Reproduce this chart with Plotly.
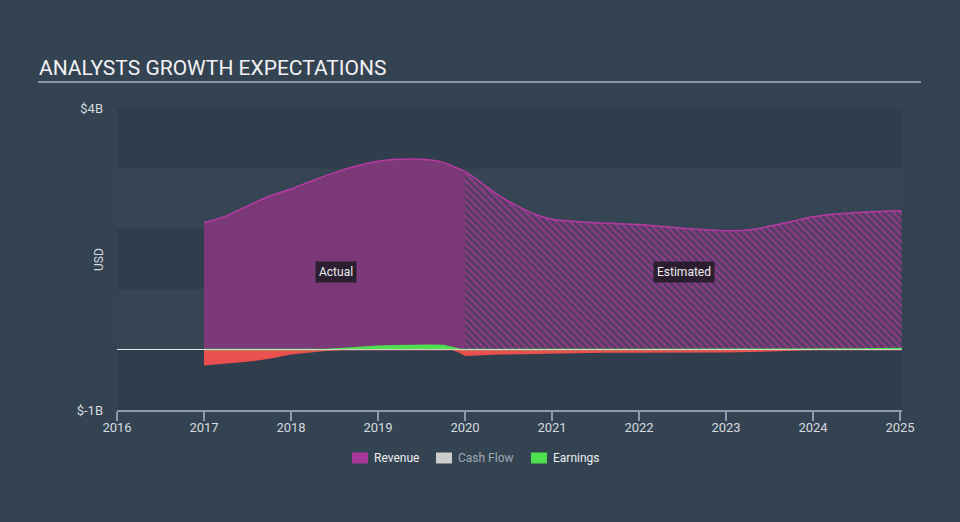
import plotly.graph_objects as go

# ---- data (USD billions) ----
rev_actual_x = [2017.0, 2017.25, 2017.5, 2017.75, 2018.0, 2018.25, 2018.5, 2018.75, 2019.0, 2019.25, 2019.5, 2019.75, 2020.0]
rev_actual_y = [2.10, 2.21, 2.38, 2.54, 2.66, 2.80, 2.93, 3.04, 3.12, 3.15, 3.15, 3.10, 2.95]
rev_est_x = [2020.0, 2020.2, 2020.4, 2020.6, 2020.8, 2021.0, 2021.5, 2022.0, 2022.5, 2023.0, 2023.3, 2023.6, 2024.0, 2024.5, 2025.02]
rev_est_y = [2.95, 2.75, 2.54, 2.38, 2.24, 2.16, 2.10, 2.07, 2.01, 1.97, 1.99, 2.07, 2.20, 2.27, 2.30]

earn_x = [2017.0, 2017.25, 2017.5, 2017.75, 2018.0, 2018.2, 2018.4, 2018.6, 2018.8, 2019.0, 2019.2, 2019.4, 2019.6, 2019.75, 2019.86, 2019.95, 2020.0,
          2020.4, 2021.0, 2021.6, 2022.0, 2022.5, 2023.0, 2023.5, 2023.85, 2024.0, 2024.5, 2025.02]
earn_y = [-0.25, -0.22, -0.19, -0.14, -0.07, -0.04, -0.01, 0.02, 0.04, 0.055, 0.065, 0.07, 0.07, 0.066, 0.03, -0.05, -0.095,
          -0.07, -0.05, -0.04, -0.04, -0.04, -0.035, -0.02, 0.0, 0.005, 0.01, 0.017]

cash_x = [2017.0, 2018.0, 2019.0, 2020.0, 2021.0, 2022.0, 2023.0, 2024.0, 2025.02]
cash_y = [0.0, 0.0, 0.0, 0.0, 0.0, 0.0, 0.0, 0.0, 0.0]

x_ticks = [2016, 2017, 2018, 2019, 2020, 2021, 2022, 2023, 2024, 2025]
y_ticks = [-1, 4]
y_tick_text = ["$-1B", "$4B"]

legend_names = ["Revenue", "Cash Flow", "Earnings"]

# ---- colours ----
BG = "#344352"
PLOT_BG = "#364554"
BAND = "#2f3d4c"
REV_FILL = "#7b3a77"
REV_LINE = "#b73aa2"
RED = "#e9504f"
GREEN = "#4fe04f"
TXT = "#d6dade"
legend_colors = ["#a8379b", "#cccccc", GREEN]
legend_text_colors = ["#eeeeee", "#a0a9b3", "#eeeeee"]

# pixel->paper helpers (plot area: x 117..902, y 108..410)
def px(xp):
    return (xp - 117) / 785.0

def py(yp):
    return (410 - yp) / 302.0

fig = go.Figure()

# revenue actual
fig.add_trace(go.Scatter(x=rev_actual_x, y=rev_actual_y, mode="lines", fill="tozeroy",
                         fillcolor=REV_FILL, line=dict(color=REV_LINE, width=1.5, shape="spline", smoothing=0.6),
                         showlegend=False, hoverinfo="skip"))
# revenue estimated (hatched)
fig.add_trace(go.Scatter(x=rev_est_x, y=rev_est_y, mode="lines", fill="tozeroy",
                         fillcolor=REV_FILL,
                         fillpattern=dict(shape="\\", fgcolor="#8a3b85", bgcolor="#4f3e60",
                                          size=5, solidity=0.5, fillmode="replace"),
                         line=dict(color=REV_LINE, width=1.5, shape="spline", smoothing=0.6),
                         showlegend=False, hoverinfo="skip"))

# earnings split into negative (red) and positive (green)
neg = [min(v, 0) for v in earn_y]
pos = [max(v, 0) for v in earn_y]
fig.add_trace(go.Scatter(x=earn_x, y=neg, mode="lines", fill="tozeroy", fillcolor=RED,
                         line=dict(color=RED, width=1.5), showlegend=False, hoverinfo="skip"))
fig.add_trace(go.Scatter(x=earn_x, y=pos, mode="lines", fill="tozeroy", fillcolor=GREEN,
                         line=dict(color=GREEN, width=1.5), showlegend=False, hoverinfo="skip"))

# cash flow (thin light line along zero)
fig.add_trace(go.Scatter(x=cash_x, y=cash_y, mode="lines", line=dict(color="#e2e2e2", width=1),
                         opacity=0.85, showlegend=False, hoverinfo="skip"))

# bands
shapes = []
for lo, hi in [(3, 4), (1, 2), (-1, 0)]:
    shapes.append(dict(type="rect", xref="paper", yref="y", x0=0, x1=1, y0=lo, y1=hi,
                       fillcolor=BAND, line=dict(width=0), layer="below"))
# title underline
shapes.append(dict(type="line", xref="paper", yref="paper", x0=px(38), x1=px(921), y0=py(82), y1=py(82),
                   line=dict(color="#a9b1ba", width=1.5)))

annotations = [
    dict(text="ANALYSTS GROWTH EXPECTATIONS", xref="paper", yref="paper", x=px(37), y=py(68),
         xanchor="left", yanchor="middle", showarrow=False, font=dict(size=21, color="#f2f2f2")),
    dict(text="USD", xref="paper", yref="paper", x=px(99), y=py(260), textangle=-90,
         xanchor="center", yanchor="middle",
         showarrow=False, font=dict(size=12, color=TXT)),
    dict(text="Actual", x=2018.52, y=1.29, xref="x", yref="y", showarrow=False,
         bgcolor="#2b1e31", borderpad=3, font=dict(size=12, color="#eeeeee")),
    dict(text="Estimated", x=2022.52, y=1.29, xref="x", yref="y", showarrow=False,
         bgcolor="#2b1e31", borderpad=3, font=dict(size=12, color="#eeeeee")),
]

# manual legend
swatch_x = [352, 436, 531]
for name, col, tcol, sx in zip(legend_names, legend_colors, legend_text_colors, swatch_x):
    shapes.append(dict(type="rect", xref="paper", yref="paper", x0=px(sx), x1=px(sx + 16),
                       y0=py(463.5), y1=py(452.5), fillcolor=col, line=dict(width=0)))
    annotations.append(dict(text=name, xref="paper", yref="paper", x=px(sx + 20), y=py(458),
                            xanchor="left", yanchor="middle", showarrow=False,
                            font=dict(size=12, color=tcol)))

fig.update_layout(
    width=960, height=522,
    margin=dict(l=117, r=58, t=108, b=112),
    paper_bgcolor=BG, plot_bgcolor=PLOT_BG,
    font=dict(family="Roboto, sans-serif", color=TXT, size=12),
    shapes=shapes, annotations=annotations,
    showlegend=False,
    xaxis=dict(range=[2016, 2025.023], tickvals=x_ticks, showgrid=False, zeroline=False,
               showline=True, linecolor="#8d9bab", linewidth=1.5, ticks="outside", ticklen=9,
               tickcolor="#8d9bab", tickwidth=1.5, ticklabelstandoff=-4,
               tickfont=dict(size=13, color=TXT)),
    yaxis=dict(range=[-1, 4], tickvals=y_ticks, ticktext=y_tick_text, showgrid=False,
               zeroline=True, zerolinecolor="#e6e6e6", zerolinewidth=1, showline=False,
               ticks="", ticklabelstandoff=13, tickfont=dict(size=13, color=TXT)),
    hovermode=False,
)

fig.write_html("out.html")
